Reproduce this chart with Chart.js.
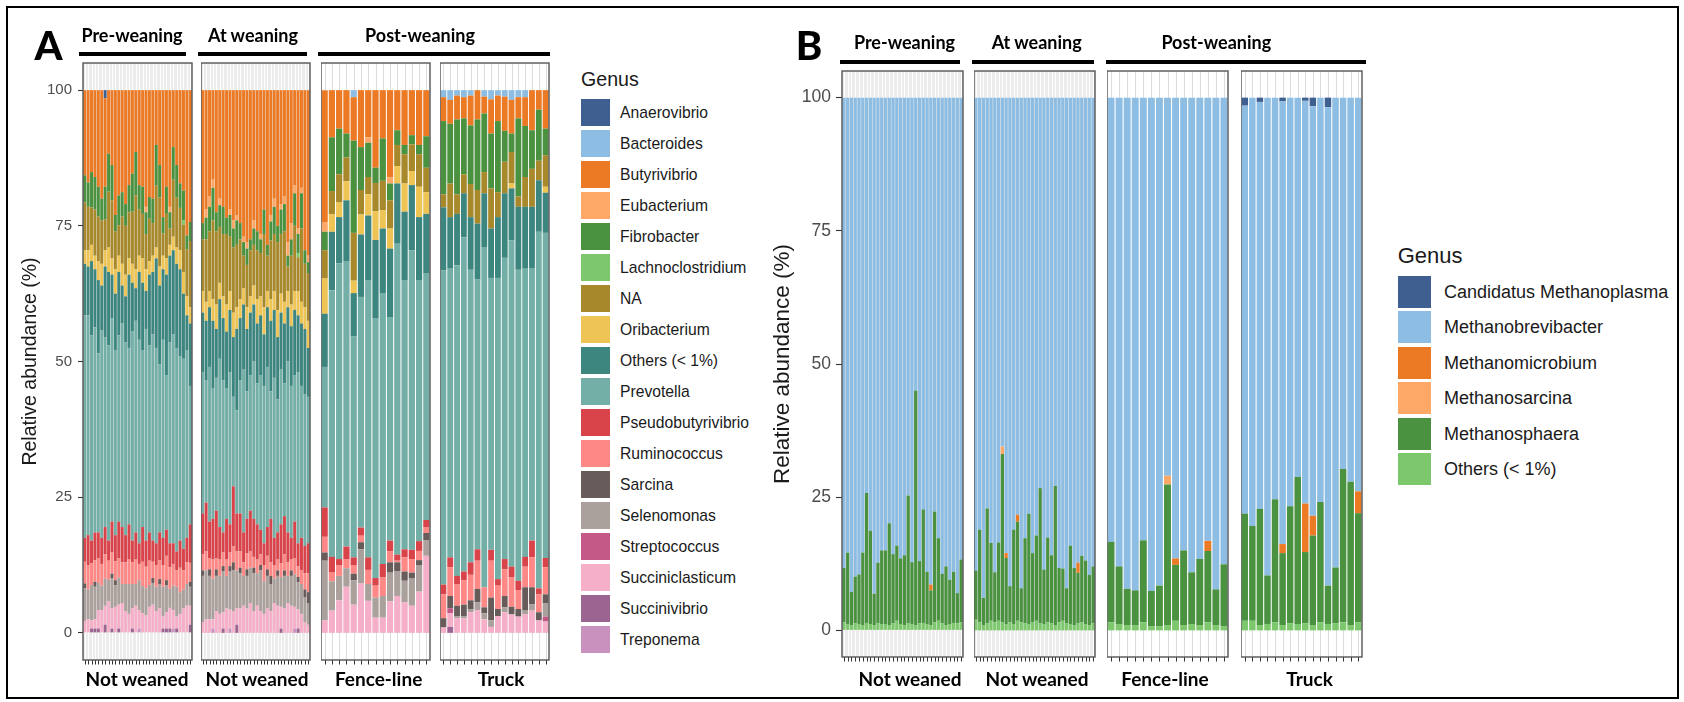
<!DOCTYPE html>
<html>
<head>
<meta charset="utf-8">
<title>Relative abundance of rumen genera</title>
<script src="https://cdn.jsdelivr.net/npm/chart.js@4.4.0/dist/chart.umd.min.js"></script>
<style>
  html, body { margin: 0; padding: 0; background: #fff; }
  body { position: relative; width: 1684px; height: 702px; overflow: hidden; font-family: 'Liberation Sans', Arial, sans-serif; }
  canvas { position: absolute; }
  .outline { position: absolute; left: 6px; top: 6px; width: 1673px; height: 693px; border: 2px solid #000; box-sizing: border-box; }
  .note { position: absolute; font-family: Lato, 'Liberation Sans', sans-serif; font-weight: 700; line-height: 1; white-space: nowrap; color: #000; transform: translate(-50%, -50%); }
  .letter { font-weight: 900; }
  .rule { position: absolute; background: #000; }
  .key { position: absolute; }
  .key-text { position: absolute; line-height: 1; white-space: nowrap; color: #1a1a1a; transform: translateY(-50%); }
</style>
</head>
<body>
<div class="outline"></div>
<script>
// samples per facet: pre-weaning | at weaning | post-weaning fence-line | post-weaning truck
const facetSizes = [32, 32, 15, 16];
const facetLabels = ['Not weaned', 'Not weaned', 'Fence-line', 'Truck'];
const stageLabels = ['Pre-weaning', 'At weaning', 'Post-weaning'];
const yTicks = [0, 25, 50, 75, 100];

const genusA = ['Anaerovibrio', 'Bacteroides', 'Butyrivibrio', 'Eubacterium', 'Fibrobacter',
  'Lachnoclostridium', 'NA', 'Oribacterium', 'Others (< 1%)', 'Prevotella', 'Pseudobutyrivibrio',
  'Ruminococcus', 'Sarcina', 'Selenomonas', 'Streptococcus', 'Succiniclasticum', 'Succinivibrio', 'Treponema'];
const genusB = ['Candidatus Methanoplasma', 'Methanobrevibacter', 'Methanomicrobium',
  'Methanosarcina', 'Methanosphaera', 'Others (< 1%)'];

// ---- panel A (bacteria), % per sample, one line per facet ----
const anaerovibrioA = [
  0,0,0,0,0,0,1.5,0, 0,0,0,0,0,0,0,0, 0,0,0,0,0,0,0,0, 0,0,0,0,0,0,0,0,
  0,0,0,0,0,0,0,0, 0,0,0,0,0,0,0,0, 0,0,0,0,0,0,0,0, 0,0,0,0,0,0,0,0,
  0,0,0,0,0,0,0,0, 0,0,0,0,0,0,0,
  0,0,0,0,0,0,0,0, 0,0,0,0,0,0,0,0
];
const bacteroidesA = [
  0,0,0,0,0,0,0,0, 0,0,0,0,0,0,0,0, 0,0,0,0,0,0,0,0, 0,0,0,0,0,0,0,0,
  0,0,0,0,0,0,0,0, 0,0,0,0,0,0,0,0, 0,0,0,0,0,0,0,0, 0,0,0,0,0,0,0,0,
  0,0,0,0,1.3,0,0,0, 0,0,0,0,0,0,0,
  1.3,1.8,1.0,1.3,1.0,0,1.2,1.7, 1.0,1.2,1.8,1.3,1.3,0,0,0
];
const butyrivibrioA = [
  15.7,17.0,15.1,16.0,17.8,20.0,16.3,11.7, 13.8,23.0,19.4,18.8,21.0,17.5,15.4,11.4, 17.5,17.8,21.5,19.7,20.0,10.1,13.8,23.4, 17.8,21.5,10.5,13.8,17.2,18.5,26.8,24.3,
  24.5,22.0,19.5,16.5,22.5,20.0,21.5,23.5, 22.0,24.0,23.0,24.5,27.0,28.0,27.5,24.0, 26.0,26.5,22.0,28.5,23.0,20.0,25.0,21.0, 19.5,28.0,24.5,17.5,25.5,18.0,29.5,30.5,
  24.3,8.7,7.1,8.0,8.0,10.5,8.7,14.3, 8.9,16.1,7.4,10.1,8.3,10.1,8.5,
  4.4,4.4,4.4,3.9,5.5,5.4,3.1,6.3, 4.7,6.3,6.2,3.9,5.3,7.4,3.6,7.1
];
const eubacteriumA = [
  0,0,0,0,0,0,0,0, 0,0,0,0,0,0,0,0, 0,0,1.0,0,0,0,0,0, 0,1.0,0,0,0,0,0,0,
  0,1.5,2.0,1.5,0,1.2,0,0, 1.0,1.5,1.0,0,1.0,1.2,0,1.5, 0,1.0,0,0,1.2,1.5,0,1.0, 1.5,2.5,3.0,1.5,1.0,1.0,0,1.2,
  1.8,0,0,0,0,0,1.0,0, 0,1.1,0,0,0,0,0,
  0,0,0,0,0,0,0,0, 0,0,0,0,0,0,0,0
];
const fibrobacterA = [
  5.0,4.5,6.5,6.0,5.5,4.0,6.0,7.0, 6.5,3.0,5.5,4.5,4.0,5.0,7.0,8.0, 4.5,5.0,4.0,4.0,4.5,7.5,6.0,3.0, 5.0,3.0,6.0,6.0,4.5,5.5,2.5,3.5,
  3.0,4.0,4.5,6.0,3.5,4.0,5.0,3.0, 4.0,3.5,4.5,3.0,2.5,3.0,2.0,3.0, 3.5,2.5,4.5,2.0,3.5,5.0,3.0,4.5, 5.0,2.0,3.0,6.0,3.5,6.5,2.5,2.0,
  3.4,9.9,8.4,4.4,17.0,7.9,6.3,2.8, 7.8,3.1,2.7,1.7,1.7,1.7,5.8,
  13.5,11.0,13.8,10.3,10.8,13.0,10.8,10.1, 13.1,5.7,3.4,14.4,9.4,7.1,9.4,4.9
];
const lachnoclostridiumA = [
  0,0,0,0,0,0,0,0, 0,0,0,0,0,0,0,0, 0,0,0,0,0,0,0,0, 0,0,0,0,0,0.8,0,0,
  0,0,0,0,0,0,0,0, 0,0,0,0,0,0,0,0, 0,0,0,0,0,0,0,0, 0,0,0,0,0.8,0,0,0,
  0,0,0,0,0,0,0,0, 0,0,0,0,0,0,0,
  0,0,0,0,0,0,0,0, 0,0,0,0,0,0,0,0
];
const naA = [
  8.8,8.0,6.9,8.5,8.2,8.0,5.7,10.3, 10.7,7.0,5.6,8.7,9.0,8.5,9.6,13.6, 8.5,8.2,6.5,7.8,6.0,11.4,12.7,4.1, 8.2,3.0,10.5,9.2,7.8,8.7,8.7,12.2,
  9.5,11.5,11.0,14.5,13.5,10.3,11.5,13.0, 10.0,12.0,11.5,11.0,6.0,7.8,8.5,7.5, 9.0,8.0,13.5,6.5,10.8,10.5,12.5,11.0, 13.0,4.5,9.0,12.0,6.2,13.5,8.0,8.8,
  5.2,4.3,5.2,4.4,8.8,4.5,3.2,5.2, 5.4,5.2,3.9,5.4,4.9,6.0,4.5,
  2.4,6.2,3.6,3.5,6.1,6.2,3.9,7.4, 4.6,5.8,5.8,1.9,5.5,7.0,3.6,5.8
];
const oribacteriumA = [
  2.5,3.0,3.0,2.5,3.5,4.0,3.0,4.5, 3.0,4.5,3.0,4.0,4.0,3.0,3.5,3.5, 3.0,4.5,4.0,2.5,3.0,2.0,3.5,2.5, 3.0,2.0,2.5,3.0,3.5,4.0,3.5,3.0,
  4.0,3.5,3.0,4.0,4.5,3.0,4.0,5.0, 3.5,4.5,4.0,3.5,3.0,4.0,3.0,3.5, 4.5,3.5,5.0,3.0,4.0,3.5,5.0,3.5, 4.0,3.0,4.0,3.5,4.5,4.0,4.0,5.0,
  6.5,3.2,2.7,3.5,2.3,3.7,3.9,5.3, 3.4,3.7,3.2,5.2,2.6,5.6,4.0,
  0,0,0,0,0,0,0,0, 0,0,0.9,0,0,0,0,1.1
];
const othersA = [
  9.5,9.0,13.7,10.7,13.5,8.3,13.0,13.5, 8.0,10.5,11.7,7.0,8.5,13.5,9.0,6.0, 12.5,12.5,7.0,13.0,11.5,16.5,14.5,13.0, 18.5,16.0,15.5,15.5,16.0,12.0,6.5,11.5,
  11.0,11.0,11.0,12.5,9.0,11.0,11.5,10.5, 11.5,11.0,15.0,11.5,12.0,11.5,11.5,10.5, 11.0,11.0,9.5,11.0,13.0,12.5,11.5,10.5, 11.0,10.0,11.0,12.0,10.5,11.5,12.0,9.0,
  9.8,10.8,8.5,11.2,8.0,11.5,12.0,14.5, 11.9,12.6,11.1,12.7,12.0,11.6,10.9,
  11.6,9.5,9.5,8.1,9.7,10.3,9.9,9.1, 11.2,11.9,9.6,11.6,11.4,11.4,9.5,7.4
];
const prevotellaA = [
  41.0,40.5,37.8,37.8,33.0,38.2,35.0,36.0, 37.5,34.0,34.3,37.5,35.5,32.5,38.5,39.0, 37.5,32.5,39.0,34.5,38.0,36.0,31.0,36.5, 28.5,37.0,38.5,37.5,34.0,35.0,34.5,25.5,
  26.0,22.5,28.5,24.0,24.5,31.0,28.0,24.0, 28.0,16.5,19.0,24.5,30.0,23.5,25.0,29.0, 26.0,28.5,29.0,29.5,23.5,29.5,24.5,28.5, 24.5,31.5,28.0,27.0,31.5,28.0,28.0,27.0,
  25.9,49.1,54.5,52.6,40.7,42.5,51.0,47.8, 49.9,41.2,57.3,49.5,55.2,48.1,45.5,
  57.9,53.2,57.2,61.6,53.9,49.7,62.7,50.1, 55.5,55.5,60.1,57.3,53.1,50.1,65.7,59.9
];
const pseudobutyrivibrioA = [
  4.4,5.5,4.2,5.1,4.8,4.8,5.0,3.7, 5.6,4.8,6.8,6.5,5.0,6.5,4.0,5.0, 3.8,6.4,4.8,5.2,3.9,4.0,5.1,5.0, 4.8,4.4,3.8,3.5,5.0,4.0,4.5,7.1,
  7.5,9.0,6.8,7.5,8.8,6.0,3.7,7.5, 5.2,11.0,7.0,7.0,5.5,6.3,7.5,7.0, 6.5,4.5,4.0,5.3,8.0,5.0,5.0,7.2, 7.0,5.5,4.0,6.7,4.2,6.0,5.0,5.5,
  5.4,2.9,1.2,2.3,1.5,1.5,2.3,1.4, 2.5,2.0,1.1,1.5,1.7,1.8,1.4,
  1.8,1.8,1.6,1.6,2.3,2.1,0,2.0, 1.2,1.9,2.0,1.7,1.8,3.1,1.1,1.7
];
const ruminococcusA = [
  4.0,4.5,4.0,4.0,4.5,4.0,4.5,3.5, 4.0,3.5,3.5,4.0,4.0,4.5,4.0,4.5, 3.0,4.5,4.0,4.5,3.0,4.0,3.5,4.0, 4.5,4.0,4.0,3.0,4.5,3.5,4.0,3.5,
  3.0,3.5,2.0,3.5,2.0,3.0,2.5,3.0, 2.5,3.0,3.5,3.0,2.5,3.0,3.0,2.0, 2.5,2.0,3.0,2.5,2.5,2.5,2.0,2.5, 3.0,2.5,2.0,3.0,2.0,2.5,3.0,3.5,
  2.9,1.6,1.9,1.7,1.5,1.2,2.6,2.2, 3.4,2.0,0.3,2.6,2.5,1.7,1.0,
  4.4,5.3,3.9,4.5,4.7,5.2,3.7,6.8, 4.3,4.9,5.4,3.5,3.8,5.5,3.3,5.0
];
const sarcinaA = [
  0.9,0,0,0.9,0,0,0,0, 0.9,0.9,0,0,0,0,0,0, 0,0,0,0,0.9,0,0.9,0, 0.9,0,0,0,0,0,0,0.9,
  1.0,0,1.2,0,1.2,0,1.0,0, 1.0,1.5,0,1.0,0,1.2,0,1.0, 0,1.0,0,1.2,1.5,0,1.0,0, 1.0,0,1.0,0,1.0,0,1.5,2.0,
  1.5,0,0,0,1.2,1.3,0,0, 0,1.9,1.7,1.7,1.1,1.0,1.3,
  1.7,2.3,1.9,2.1,1.6,2.5,1.1,4.2, 1.3,2.1,1.4,1.4,4.3,3.1,1.5,1.7
];
const selenomonasA = [
  6.0,5.5,6.5,6.0,5.0,4.5,5.0,4.0, 5.5,4.0,5.0,3.5,5.0,5.5,4.5,4.0, 5.5,5.0,5.0,4.0,4.0,4.5,4.5,5.5, 5.0,3.5,4.5,5.5,4.0,3.5,4.0,3.5,
  8.5,9.0,8.0,7.5,6.5,7.0,7.5,6.0, 7.0,7.5,7.0,6.5,5.5,6.0,6.5,7.0, 6.0,7.5,6.0,6.0,5.0,4.5,5.5,5.5, 6.0,5.0,5.5,6.0,5.0,5.5,4.5,4.0,
  11.0,5.4,4.5,3.4,4.5,6.3,3.1,3.7, 4.0,5.3,4.5,4.0,5.0,4.8,2.9,
  0,0,0.4,0.4,0.6,1.4,1.1,1.2, 0,0.9,0,0,0.7,1.2,0,2.4
];
const streptococcusA = [
  0,0,0,0,0,0,0,0, 0,0,0,0,0,0,0,0, 0,0,0,0,0,0,0,0, 0,0,0,0,0,0,0,0,
  0,0,0,0,0,0,0,0, 0,0,0,0,0,0,0,0, 0,0,0,0,0,0,0,0, 0,0,0,0,0,0,0,0,
  0,0,0,0,0,0,0,0, 0,0,0,0,0,0,0,
  0,0.9,0,0,0,0,0,0, 0,0,0,0,0,0,0,0.9
];
const succiniclasticumA = [
  2.2,2.5,1.5,1.7,3.4,4.2,3.5,5.8, 3.7,4.8,4.4,5.5,4.0,3.5,3.7,5.0, 3.4,3.6,3.2,4.8,5.2,4.0,4.5,2.2, 3.0,3.8,3.4,2.2,3.5,4.5,5.0,3.5,
  2.0,2.5,2.5,1.7,4.0,3.5,3.0,4.5, 3.5,4.0,3.0,4.5,5.0,4.5,5.5,4.0, 5.0,4.0,3.5,4.5,4.0,5.5,5.0,4.0, 4.5,5.5,5.0,4.0,3.5,3.5,2.0,1.5,
  2.3,4.1,6.0,8.5,5.2,9.1,5.9,2.8, 2.8,5.8,6.8,5.6,5.0,7.6,14.2,
  1.0,2.5,2.7,2.7,3.8,4.2,2.5,1.1, 3.1,3.8,3.4,3.0,3.4,4.1,2.3,2.1
];
const succinivibrioA = [
  0,0,0.8,0.8,0.8,0,1.5,0, 0.8,0,0.8,0,0,0,0.8,0, 0,0,0,0,0,0,0,0.8, 0.8,0.8,0,0.8,0,0,0,1.5,
  0,0,0,0,0,0,0.8,0, 0,0,1.5,0,0,0,0,0, 0,0,0,0,0,0,0,0.8, 0,0,0,0,0.8,0,0,0,
  0,0,0,0,0,0,0,0, 0,0,0,0,0,0,0,
  0,1.1,0,0,0,0,0,0, 0,0,0,0,0,0,0,0
];
const treponemaA = [
  0,0,0,0,0,0,0,0, 0,0,0,0,0,0,0,0, 0.8,0,0,0,0,0,0,0, 0,0,0.8,0,0,0,0,0,
  0,0,0,0.8,0,0,0,0, 0.8,0,0,0,0,0,0,0, 0,0,0,0,0,0,0,0, 0,0,0,0.8,0,0,0,0,
  0,0,0,0,0,0,0,0, 0,0,0,0,0,0,0,
  0,0,0,0,0,0,0,0, 0,0,0,0,0,0,0,0
];

// ---- panel B (archaea) ----
const candidatusB = [
  0,0,0,0,0,0,0,0, 0,0,0,0,0,0,0,0, 0,0,0,0,0,0,0,0, 0,0,0,0,0,0,0,0,
  0,0,0,0,0,0,0,0, 0,0,0,0,0,0,0,0, 0,0,0,0,0,0,0,0, 0,0,0,0,0,0,0,0,
  0,0,0,0,0,0,0,0, 0,0,0,0,0,0,0,
  1.5,0,0.8,0,0,0.7,0,0, 0.6,1.6,0,1.8,0,0,0,0
];
const brevibacterB = [
  88.3,85.4,92.8,89.9,89.5,85.4,74.2,81.3, 93.1,87.3,85.0,85.0,79.9,85.7,84.1,86.5, 85.9,74.7,87.2,55.0,87.0,77.3,89.0,91.4, 77.7,82.7,89.4,88.0,90.5,89.0,93.0,86.7,
  88.8,81.1,93.9,77.1,83.6,89.1,83.5,65.5, 85.5,91.7,81.1,78.3,92.1,82.7,78.1,85.5, 82.2,73.3,88.6,82.6,85.9,72.9,88.3,88.4, 92.1,84.1,88.3,87.3,86.0,86.9,89.6,88.0,
  83.4,88.0,92.2,92.5,83.1,92.6,91.6,71.0, 86.5,85.0,89.1,86.6,83.2,92.3,87.6,
  76.6,80.4,76.4,89.7,75.4,83.1,76.7,71.2, 75.6,76.9,75.9,89.8,88.2,69.7,72.1,73.9
];
const microbiumB = [
  0,0,0,0,0,0,0,0, 0,0,0,0,0,0,0,0, 0,0,0,0,0,0,0,1.1, 0,0,0,0,0,0,0,0,
  0,0,0,0,0,0,0,0, 0.9,0,0,1.3,0,0,0,0, 0,0,0,0,0,0,0,0, 0,0,0,1.9,0,0,0,0,
  0,0,0,0,0,0,0,0, 1.2,0,0,0,1.9,0,0,
  0,0,0,0,0,1.7,0,0, 9.1,3.7,0,0,0,0,0,4.1
];
const sarcinaB = [
  0,0,0,0,0,0,0,0, 0,0,0,0,0,0,0,0, 0,0,0,0,0,0,0,0, 0,0,0,0,0,0,0,0,
  0,0,0,0,0,0,0,1.4, 0,0,0,0,0,0,0,0, 0,0,0,0,0,0,0,0, 0,0,0,0,0,0,0,0,
  0,0,0,0,0,0,0,1.6, 0,0,0,0,0,0,0,
  0,0,0,0,0,0,0,0, 0,0,0,0,0,0,0,0
];
const sphaeraB = [
  10.2,13.4,6.2,8.8,9.3,13.6,24.4,17.5, 5.9,11.4,13.8,13.8,19.1,13.0,14.1,12.3, 13.1,24.0,11.6,44.0,11.7,21.3,9.8,6.5, 20.8,15.5,9.3,11.0,8.3,9.6,5.7,11.8,
  9.2,17.4,5.1,21.6,14.6,9.4,14.7,31.6, 12.4,6.8,17.7,18.6,6.4,16.0,20.7,13.0, 16.0,25.4,10.2,15.9,12.8,26.1,10.2,9.8, 6.6,14.7,10.7,9.5,12.5,11.9,9.4,10.7,
  15.1,10.8,6.8,6.5,15.4,6.6,7.6,26.4, 10.5,14.0,9.7,12.4,13.4,6.7,11.6,
  20.1,17.8,21.8,9.1,23.1,13.5,22.0,27.6, 13.4,16.8,22.6,7.2,10.5,28.8,26.9,20.5
];
const othersB = [
  1.5,1.2,1.0,1.3,1.2,1.0,1.4,1.2, 1.0,1.3,1.2,1.2,1.0,1.3,1.8,1.2, 1.0,1.3,1.2,1.0,1.3,1.4,1.2,1.0, 1.5,1.8,1.3,1.0,1.2,1.4,1.3,1.5,
  2.0,1.5,1.0,1.3,1.8,1.5,1.8,1.5, 1.2,1.5,1.2,1.8,1.5,1.3,1.2,1.5, 1.8,1.3,1.2,1.5,1.3,1.0,1.5,1.8, 1.3,1.2,1.0,1.3,1.5,1.2,1.0,1.3,
  1.5,1.2,1.0,1.0,1.5,0.8,0.8,1.0, 1.8,1.0,1.2,1.0,1.5,1.0,0.8,
  1.8,1.8,1.0,1.2,1.5,1.0,1.3,1.2, 1.3,1.0,1.5,1.2,1.3,1.5,1.0,1.5
];

// legend order (top of the stack first)
const seriesA = [anaerovibrioA, bacteroidesA, butyrivibrioA, eubacteriumA, fibrobacterA, lachnoclostridiumA,
  naA, oribacteriumA, othersA, prevotellaA, pseudobutyrivibrioA, ruminococcusA, sarcinaA, selenomonasA,
  streptococcusA, succiniclasticumA, succinivibrioA, treponemaA];
const seriesB = [candidatusB, brevibacterB, microbiumB, sarcinaB, sphaeraB, othersB];

const coloursA = ['#3e5f90', '#8dbde2', '#ec7a24', '#fda866', '#4a9140', '#7dc86d', '#a7882a', '#eec454', '#3d857f',
  '#73aea7', '#d9434a', '#fd8886', '#675c5a', '#aaa09c', '#c45886', '#f5afc8', '#9c6591', '#c991bd'];
const coloursB = ['#3e5f90', '#8dbde2', '#ec7a24', '#fda866', '#4a9140', '#7dc86d'];

// ---- layout (pixels) ----
const panelA = {
  series: seriesA, genus: genusA, colours: coloursA,
  facetLeft: [83, 201, 321, 440], facetW: 109, facetTop: 63, facetH: 597,
  axisW: 64, tickLen: 5, tickPad: 6, tickSize: 15, titleSize: 19.5,
  letter: 'A', letterAt: [48.5, 44.5],
  stageAt: [[132, 79, 107], [253, 198, 109], [420, 318, 232]], stageY: 35, ruleY: 51.7, ruleH: 4,
  labelAt: [137, 257, 378.6, 501], labelY: 678,
  key: {x: 581, titleY: 80, titleSize: 19.6, y0: 112.5, step: 31, w: 29, h: 26.5, textX: 620, textSize: 15.7}
};
const panelB = {
  series: seriesB, genus: genusB, colours: coloursB,
  facetLeft: [842, 974, 1107, 1241], facetW: 121, facetTop: 71, facetH: 586,
  axisW: 73, tickLen: 6, tickPad: 5, tickSize: 17.5, titleSize: 22.5,
  letter: 'B', letterAt: [809, 45.2],
  stageAt: [[904.5, 840.4, 119.5], [1036.7, 972.2, 121.5], [1216.3, 1106.4, 259.3]], stageY: 41.8, ruleY: 60.2, ruleH: 3.6,
  labelAt: [910, 1037, 1165, 1309.5], labelY: 678,
  key: {x: 1397.7, titleY: 255.5, titleSize: 22, y0: 291.8, step: 35.5, w: 33.3, h: 31.7, textX: 1444, textSize: 18}
};

const facetPlugin = {
  id: 'facet',
  beforeDatasetsDraw(chart, args, opts) {
    const {ctx, chartArea: a} = chart;
    const x = chart.scales.x;
    ctx.save();
    ctx.fillStyle = opts.fill;
    ctx.fillRect(a.left, a.top, a.right - a.left, a.bottom - a.top);
    ctx.strokeStyle = opts.grid;
    ctx.lineWidth = 1;
    ctx.beginPath();
    chart.data.labels.forEach((_, i) => {
      const px = Math.round(x.getPixelForValue(i)) + 0.5;
      ctx.moveTo(px, a.top);
      ctx.lineTo(px, a.bottom);
    });
    ctx.stroke();
    ctx.restore();
  },
  afterDraw(chart) {
    const {ctx, chartArea: a} = chart;
    const x = chart.scales.x;
    ctx.save();
    ctx.strokeStyle = '#333333';
    ctx.lineWidth = 1;
    ctx.beginPath();
    chart.data.labels.forEach((_, i) => {
      const px = Math.round(x.getPixelForValue(i)) + 0.5;
      ctx.moveTo(px, a.bottom);
      ctx.lineTo(px, a.bottom + 4.5);
    });
    ctx.stroke();
    ctx.strokeStyle = '#555555';
    ctx.lineWidth = 1.4;
    ctx.strokeRect(a.left, a.top, a.right - a.left, a.bottom - a.top);
    ctx.restore();
  }
};

function facetChart(p, f, start) {
  const n = facetSizes[f];
  const first = f === 0;
  const axisW = first ? p.axisW : 0;
  // generous top/bottom padding so the y tick labels never squeeze the plot area
  const pad = {left: 0, top: 22, right: 2, bottom: 22};
  const w = p.facetW + axisW + pad.right;
  const h = p.facetH + pad.top + pad.bottom;
  const cv = document.createElement('canvas');
  cv.width = w; cv.height = h;
  cv.style.left = (p.facetLeft[f] - axisW) + 'px';
  cv.style.top = (p.facetTop - pad.top) + 'px';
  cv.style.width = w + 'px';
  cv.style.height = h + 'px';
  document.body.appendChild(cv);

  const datasets = p.series.map((arr, k) => ({
    label: p.genus[k],
    data: arr.slice(start, start + n),
    backgroundColor: p.colours[k],
    borderWidth: 0
  })).reverse();
  const grey = f < 2;

  new Chart(cv, {
    type: 'bar',
    data: {labels: Array.from({length: n}, (_, i) => 'S' + (i + 1)), datasets},
    options: {
      responsive: false, animation: false, devicePixelRatio: 1, events: [],
      layout: {padding: pad},
      datasets: {bar: {categoryPercentage: 1, barPercentage: 0.86}},
      scales: {
        x: {display: false, stacked: true},
        y: {
          display: first, stacked: true, min: -5, max: 105, position: 'left',
          afterBuildTicks: (axis) => { axis.ticks = yTicks.map(v => ({value: v})); },
          afterFit: (scale) => { scale.width = axisW; },
          grid: {drawOnChartArea: false, drawTicks: true, tickLength: p.tickLen, tickColor: '#333333', tickWidth: 1.1},
          border: {display: false},
          ticks: {color: '#4d4d4d', padding: p.tickPad, font: {family: 'Liberation Sans', size: p.tickSize}},
          title: {display: true, text: 'Relative abundance (%)', color: '#1a1a1a', padding: 0,
            font: {family: 'Liberation Sans', size: p.titleSize}}
        }
      },
      plugins: {
        legend: {display: false},
        tooltip: {enabled: false},
        facet: {fill: grey ? '#ececec' : '#ffffff', grid: grey ? '#ffffff' : '#dcdcdc'}
      }
    },
    plugins: [facetPlugin]
  });
}

function note(text, x, y, size, cls) {
  const d = document.createElement('div');
  d.className = 'note' + (cls ? ' ' + cls : '');
  d.textContent = text;
  d.style.left = x + 'px';
  d.style.top = y + 'px';
  d.style.fontSize = size + 'px';
  document.body.appendChild(d);
}

function block(cls, x, y, w, h, colour) {
  const d = document.createElement('div');
  d.className = cls;
  d.style.left = x + 'px';
  d.style.top = y + 'px';
  d.style.width = w + 'px';
  d.style.height = h + 'px';
  if (colour) d.style.background = colour;
  document.body.appendChild(d);
}

function keyText(text, x, y, size) {
  const d = document.createElement('div');
  d.className = 'key-text';
  d.textContent = text;
  d.style.left = x + 'px';
  d.style.top = y + 'px';
  d.style.fontSize = size + 'px';
  document.body.appendChild(d);
}

function drawPanel(p) {
  let start = 0;
  facetSizes.forEach((n, f) => {
    facetChart(p, f, start);
    start += n;
  });

  note(p.letter, p.letterAt[0], p.letterAt[1], 40, 'letter');
  stageLabels.forEach((s, i) => {
    const [cx, rx, rw] = p.stageAt[i];
    note(s, cx, p.stageY, 18);
    block('rule', rx, p.ruleY, rw, p.ruleH);
  });
  facetLabels.forEach((s, i) => note(s, p.labelAt[i], p.labelY, 19));

  const k = p.key;
  keyText('Genus', k.x, k.titleY, k.titleSize);
  p.genus.forEach((g, i) => {
    const cy = k.y0 + i * k.step;
    block('key', k.x, cy - k.h / 2, k.w, k.h, p.colours[i]);
    keyText(g, k.textX, cy, k.textSize);
  });
}

Chart.defaults.font.family = 'Liberation Sans';
drawPanel(panelA);
drawPanel(panelB);
</script>
</body>
</html>
